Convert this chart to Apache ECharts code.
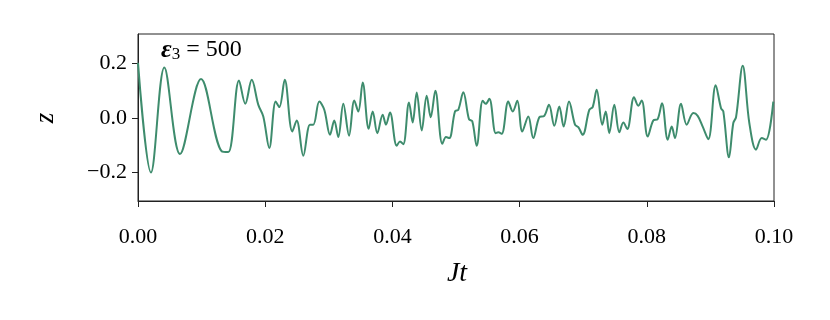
<!DOCTYPE html>
<html>
<head>
<meta charset="utf-8">
<script src="https://cdn.jsdelivr.net/npm/echarts@6/dist/echarts.min.js"></script>
<style>
  html, body { margin: 0; padding: 0; background: #fff; }
  #chart { width: 830px; height: 320px; }
</style>
</head>
<body>
<div id="chart"></div>
<script>
// time axis (Jt)
const jt = [
  0, 0.00204, 0.00414, 0.00660, 0.00991, 0.01316, 0.01420, 0.01588, 0.01687, 0.01788,
  0.01892, 0.01970, 0.02064, 0.02165, 0.02222, 0.02307, 0.02426, 0.02495, 0.02599, 0.02704,
  0.02756, 0.02851, 0.02929, 0.03019, 0.03086, 0.03149, 0.03228, 0.03318, 0.03401, 0.03464,
  0.03533, 0.03627, 0.03690, 0.03763, 0.03847, 0.03899, 0.03962, 0.04068, 0.04119, 0.04171,
  0.04261, 0.04319, 0.04382, 0.04461, 0.04539, 0.04602, 0.04675, 0.04785, 0.04843, 0.04895,
  0.04984, 0.05036, 0.05115, 0.05204, 0.05256, 0.05325, 0.05420, 0.05467, 0.05524, 0.05624,
  0.05665, 0.05719, 0.05822, 0.05892, 0.05964, 0.06042, 0.06137, 0.06215, 0.06310, 0.06388,
  0.06462, 0.06546, 0.06624, 0.06693, 0.06777, 0.06871, 0.06923, 0.06992, 0.07096, 0.07149,
  0.07212, 0.07300, 0.07354, 0.07410, 0.07489, 0.07568, 0.07631, 0.07693, 0.07799, 0.07866,
  0.07920, 0.08014, 0.08102, 0.08171, 0.08239, 0.08329, 0.08392, 0.08443, 0.08538, 0.08627,
  0.08731, 0.08800, 0.08879, 0.08967, 0.09083, 0.09167, 0.09203, 0.09292, 0.09360, 0.09403,
  0.09508, 0.09612, 0.09717, 0.09807, 0.09874, 0.09989
]
// z values
const z = [
  0.200, -0.199, 0.183, -0.132, 0.141, -0.122, -0.125, 0.136, 0.051, 0.138,
  0.047, 0.005, -0.110, 0.059, 0.039, 0.138, -0.050, -0.010, -0.138, -0.025,
  -0.025, 0.059, 0.029, -0.062, -0.010, -0.070, 0.051, -0.065, 0.063, 0.023,
  0.128, -0.040, 0.023, -0.056, 0.011, -0.025, 0.019, -0.102, -0.086, -0.096,
  0.056, -0.017, 0.092, -0.046, 0.080, 0.002, 0.098, -0.095, -0.070, -0.074,
  0.023, 0.029, 0.093, -0.005, -0.013, -0.102, 0.062, 0.051, 0.069, -0.056,
  -0.053, -0.058, 0.059, 0.023, 0.062, -0.050, 0.005, -0.074, 0.002, 0.007,
  0.047, -0.029, 0.041, -0.032, 0.059, -0.025, -0.034, -0.062, 0.029, 0.039,
  0.102, -0.025, 0.023, -0.056, 0.047, -0.053, -0.017, -0.041, 0.075, 0.044,
  0.063, -0.068, -0.010, -0.005, 0.053, -0.080, -0.032, -0.074, 0.051, -0.025,
  0.017, 0.007, -0.032, -0.078, 0.118, 0.035, 0.023, -0.144, -0.019, 0.002,
  0.189, -0.019, -0.116, -0.074, -0.080, 0.059
]
const yTicks = [-0.2, 0, 0.2]

const serif = '"Liberation Serif", "DejaVu Serif", serif'
const chart = echarts.init(document.getElementById('chart'))

chart.setOption({
  animation: false,
  grid: {
    left: 138,
    right: 56,
    top: 34,
    bottom: 119,
    show: true,
    borderColor: '#222',
    borderWidth: 1
  },
  xAxis: {
    type: 'value',
    min: 0,
    max: 0.1,
    interval: 0.02,
    axisLine: { onZero: false, lineStyle: { color: '#222', width: 1 } },
    axisTick: { length: 6, lineStyle: { color: '#222' } },
    splitLine: { show: false },
    axisLabel: {
      margin: 25,
      color: '#000',
      fontFamily: serif,
      fontSize: 22,
      formatter: v => v.toFixed(2)
    }
  },
  yAxis: {
    type: 'value',
    min: -0.303,
    max: 0.305,
    axisLine: { show: true, onZero: false, lineStyle: { color: '#222', width: 1 } },
    axisTick: { show: true, length: 6, customValues: yTicks, lineStyle: { color: '#222' } },
    splitLine: { show: false },
    axisLabel: {
      margin: 11,
      color: '#000',
      fontFamily: serif,
      fontSize: 22,
      customValues: yTicks,
      formatter: v => (v < 0 ? '\u2212' : '') + Math.abs(v).toFixed(1)
    }
  },
  series: [{
    type: 'line',
    data: jt.map((t, i) => [t, z[i]]),
    showSymbol: false,
    smooth: 0.35,
    lineStyle: { color: '#3e8c6d', width: 2 }
  }],
  graphic: [
    {
      type: 'text',
      left: 161,
      top: 37,
      style: {
        text: '{e|\u03b5}{s|3}{t| = 500}',
        rich: {
          e: { fontFamily: serif, fontSize: 26, fontWeight: 'bold', fontStyle: 'italic', fill: '#000' },
          s: { fontFamily: serif, fontSize: 17, fill: '#000', verticalAlign: 'bottom', padding: [10, 0, 0, 0] },
          t: { fontFamily: serif, fontSize: 24, fill: '#000' }
        }
      }
    },
    {
      type: 'text',
      x: 457,
      y: 274,
      style: {
        text: 'Jt',
        fontFamily: serif,
        fontSize: 28,
        fontStyle: 'italic',
        fill: '#000',
        align: 'center',
        verticalAlign: 'middle'
      }
    },
    {
      type: 'text',
      x: 46,
      y: 118,
      rotation: Math.PI / 2,
      style: {
        text: 'z',
        fontFamily: serif,
        fontSize: 27,
        fontStyle: 'italic',
        fill: '#000',
        align: 'center',
        verticalAlign: 'middle'
      }
    }
  ]
})
</script>
</body>
</html>
